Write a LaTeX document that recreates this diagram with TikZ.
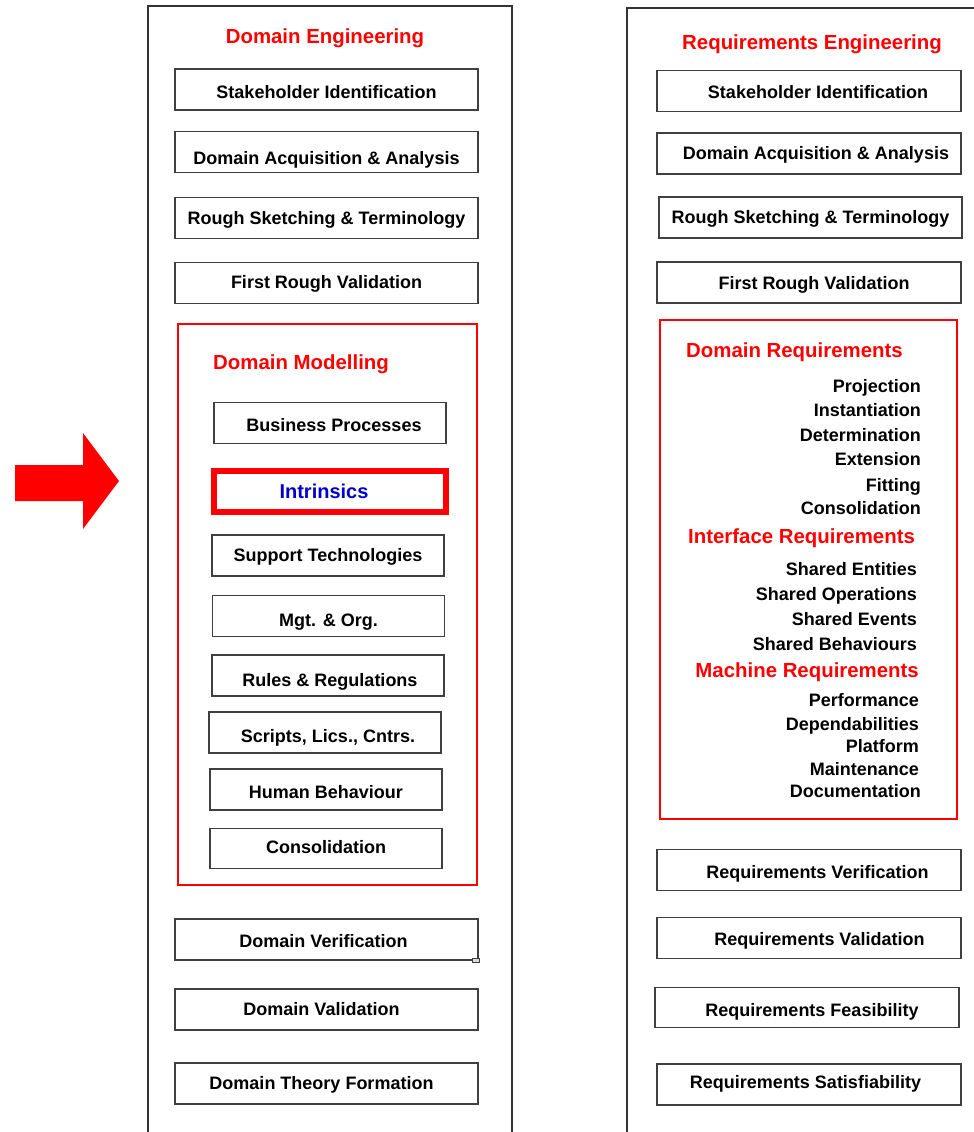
\documentclass[tikz,border=0pt]{standalone}
\usepackage{fontspec}
\setmainfont{Liberation Sans}
\newcommand{\dn}[2]{\raisebox{#1pt}{#2}}
\begin{document}
\begin{tikzpicture}[x=1pt,y=-1pt,
  boxn/.style={draw=black!75, line width=1.1pt, minimum width=303pt, minimum height=41pt, inner sep=0pt,
    text height=12pt, text depth=0pt, font=\fontsize{18}{21}\selectfont\bfseries},
  inbox/.style={boxn, minimum width=232pt},
  redframe/.style={draw=red, line width=2pt, inner sep=0pt},
  rtitle/.style={text=red, inner sep=0pt, font=\fontsize{20.4}{24}\selectfont\bfseries},
  item/.style={anchor=base east, inner sep=0pt, font=\fontsize{18}{21}\selectfont\bfseries}]
\useasboundingbox (0,0) rectangle (974,1132);
% big arrow
\fill[red] (15,465) -- (83,465) -- (83,433) -- (119,481) -- (83,529) -- (83,501) -- (15,501) -- cycle;
% outer frames
\draw[black!80, line width=1.1pt] (148,1140) -- (148,6) -- (512,6) -- (512,1140);
\draw[black!80, line width=1.1pt] (627,1140) -- (627,8) -- (985,8);
% ---------- left column ----------
\node[rtitle, anchor=base] (de) at (325,44) {Domain Engineering};
\node[boxn] (ls1) at (326.5,89.5) {\dn{-2.8}{Stakeholder Identification}};
\node[boxn] (ls2) at (326.5,152) {\dn{-6}{Domain Acquisition \& Analysis}};
\node[boxn] (ls3) at (326.5,218) {Rough Sketching \& Terminology};
\node[boxn] (ls4) at (326.5,282.7) {First Rough Validation};
\node[redframe, minimum width=299pt, minimum height=561pt] (dm) at (327.5,604.5) {};
\node[rtitle, anchor=base west] (dmt) at (213,369.3) {Domain Modelling};
\node[inbox] (bp) at (330,423.3) {\hspace{8pt}\dn{-2.4}{Business Processes}};
\node[draw=red, line width=6pt, minimum width=232pt, minimum height=41pt, inner sep=0pt,
  text height=12pt, text depth=0pt,
  text={rgb,255:red,0;green,0;blue,204}, font=\fontsize{20}{24}\selectfont\bfseries] (intr) at (330,491.3) {\hspace{-12pt}\dn{-1}{Intrinsics}};
\node[inbox] (st) at (328,555.5) {Support Technologies};
\node[inbox] (mg) at (328.5,616.3) {\dn{-4.4}{Mgt. \& Org.}};
\node[inbox] (rr) at (328,675.5) {\hspace{4pt}\dn{-4.5}{Rules \& Regulations}};
\node[inbox] (sc) at (325,732.5) {\hspace{6pt}\dn{-4}{Scripts, Lics., Cntrs.}};
\node[inbox] (hb) at (326,789.5) {\dn{-3}{Human Behaviour}};
\node[inbox, minimum height=40pt] (co) at (326,848.2) {\dn{1}{Consolidation}};
\node[boxn] (dv) at (326.5,939.5) {\hspace{-6pt}\dn{-2}{Domain Verification}};
\draw[black!75, line width=0.8pt, fill=black!15] (472,958) rectangle (479,962);
\node[boxn] (dval) at (326.5,1009.5) {\hspace{-10pt}Domain Validation};
\node[boxn] (dtf) at (326.5,1083.5) {\hspace{-10pt}Domain Theory Formation};
% ---------- right column ----------
\node[rtitle, anchor=base] (re) at (812,50) {Requirements Engineering};
\node[boxn, minimum width=304pt] (rs1) at (809,90.8) {\hspace{18pt}\dn{-1.5}{Stakeholder Identification}};
\node[boxn, minimum width=304pt] (rs2) at (809,153.5) {\hspace{14pt}Domain Acquisition \& Analysis};
\node[boxn, minimum width=303pt] (rs3) at (810.5,217.5) {Rough Sketching \& Terminology};
\node[boxn, minimum width=304pt] (rs4) at (809,282.5) {\hspace{10pt}\dn{-1}{First Rough Validation}};
\node[redframe, minimum width=297pt, minimum height=499pt] (dr) at (808.5,569.5) {};
\node[rtitle, anchor=base west] (drt) at (686,357.7) {Domain Requirements};
\node[item] (p1) at (921,392.3) {Projection};
\node[item] (p2) at (921,416.7) {Instantiation};
\node[item] (p3) at (921,441.7) {Determination};
\node[item] (p4) at (921,465.7) {Extension};
\node[item] (p5) at (921,491) {Fitting};
\node[item] (p6) at (921,514.3) {Consolidation};
\node[rtitle, anchor=base west] (irt) at (688,543.3) {Interface Requirements};
\node[item] (i1) at (917,575.7) {Shared Entities};
\node[item] (i2) at (917,600.7) {Shared Operations};
\node[item] (i3) at (917,625) {Shared Events};
\node[item] (i4) at (917,650) {Shared Behaviours};
\node[rtitle, anchor=base east] (mrt) at (919,677.7) {Machine Requirements};
\node[item] (m1) at (919,706.7) {Performance};
\node[item] (m2) at (919,730.7) {Dependabilities};
\node[item] (m3) at (919,752) {Platform};
\node[item] (m4) at (919,775) {Maintenance};
\node[item] (m5) at (921,797.3) {Documentation};
\node[boxn, minimum width=304pt] (rv) at (809,869.8) {\hspace{17pt}\dn{-2.5}{Requirements Verification}};
\node[boxn, minimum width=304pt] (rval) at (809,937.8) {\hspace{21pt}\dn{-1.2}{Requirements Validation}};
\node[boxn, minimum width=304pt, minimum height=40pt] (rf) at (807,1007.5) {\hspace{10pt}\dn{-3.3}{Requirements Feasibility}};
\node[boxn, minimum width=304pt] (rsat) at (809,1084.5) {\hspace{-7pt}\dn{2.2}{Requirements Satisfiability}};
\end{tikzpicture}
\end{document}
